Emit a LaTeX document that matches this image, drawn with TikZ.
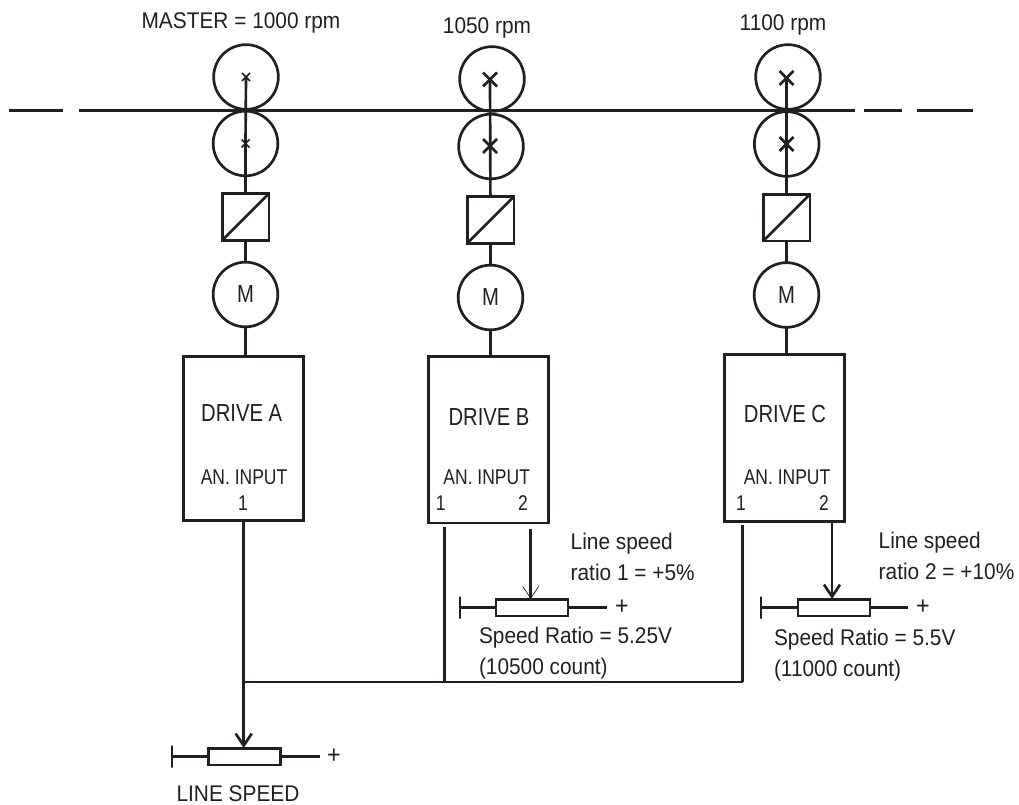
\documentclass[tikz,border=0pt]{standalone}
\usepackage{fontspec}
\setmainfont[FakeStretch=0.92]{Liberation Sans}
\newfontfamily\capsfont[FakeStretch=0.82]{Liberation Sans}
\usepackage{tikz}
\usetikzlibrary{arrows.meta, positioning}
\definecolor{inkblack}{HTML}{231F20}
\tikzset{
  wire/.style={
    draw=inkblack,
    line width=2pt
  },
  roller/.style={
    wire,
    circle,
    inner sep=0pt,
    outer sep=0pt,
    minimum size=48.5pt
  },
  motor/.style={
    roller,
    font=\capsfont\fontsize{18.5}{20}\selectfont,
    text=inkblack
  },
  converter/.style={
    wire,
    rectangle,
    inner sep=0pt,
    outer sep=0pt,
    minimum size=35pt
  },
  drivebox/.style={
    wire,
    rectangle,
    inner sep=0pt,
    outer sep=0pt,
    minimum width=90pt,
    minimum height=123pt
  },
  tallbox/.style={
    drivebox,
    minimum height=125pt
  },
  potbox/.style={
    wire,
    rectangle,
    inner sep=0pt,
    outer sep=0pt,
    minimum width=54pt,
    minimum height=12.5pt
  },
  potstop/.style={
    wire,
    rectangle,
    inner sep=0pt,
    outer sep=0pt,
    minimum width=0pt,
    minimum height=16.5pt
  },
  wiper/.style={
    wire,
    -{Straight Barb[length=9pt,width=12pt]}
  },
  thinwiper/.style={
    wire,
    -{Straight Barb[length=9pt,width=12pt,line width=0.5pt]}
  },
  label/.style={
    inner sep=0pt,
    outer sep=0pt,
    text=inkblack,
    anchor=base,
    font=\fontsize{17}{20}\selectfont
  },
  drivelabel/.style={
    label,
    font=\capsfont\fontsize{18.5}{20}\selectfont
  },
  inputlabel/.style={
    label,
    font=\capsfont\fontsize{16}{20}\selectfont
  },
  pluslabel/.style={
    label,
    font=\fontsize{19}{20}\selectfont
  },
  note/.style={
    label,
    anchor=north west,
    align=left,
    font=\fontsize{17}{23}\selectfont
  },
  cross/.style={
    wire,
    line width=1.2pt
  }
}

\begin{document}
\begin{tikzpicture}[x=0.75pt,y=-0.75pt]
\useasboundingbox (0,0) rectangle (1019,805);

% --- Speed labels ---
\node[label] (rpmA) at (241,28.3) {MASTER = 1000 rpm};
\node[label] (rpmB) at (487,33.3) {1050 rpm};
\node[label] (rpmC) at (783,31) {1100 rpm};

% --- Web line ---
\coordinate (webA) at (9,110.7);
\coordinate (webB) at (63,110.7);
\coordinate (webC) at (79,110.7);
\coordinate (webD) at (855,110.7);
\coordinate (webE) at (864,110.7);
\coordinate (webF) at (902,110.7);
\coordinate (webG) at (917,110.7);
\coordinate (webH) at (973,110.7);
\draw[wire] (webA) -- (webB);
\draw[wire] (webC) -- (webD);
\draw[wire] (webE) -- (webF);
\draw[wire] (webG) -- (webH);

% --- Drive A column ---
\node[roller] (rollAu) at (246,77) {};
\node[roller] (rollAl) at (245.5,143.5) {};
\node[converter] (convA) at (245.5,217) {};
\node[motor] (motA) at (245.5,294.5) {M};
\node[drivebox] (driveA) at (243.5,438.5) {};
\draw[wire] (rollAu.center) -- (rollAl.center);
\draw[wire] (rollAl.center) -- (convA);
\draw[wire] (convA.south west) -- (convA.north east);
\draw[wire] (convA) -- (motA);
\draw[wire] (motA) -- (motA |- driveA.north);
\draw[cross] ([shift={(-4,-4)}]rollAu.center) -- ([shift={(4,4)}]rollAu.center);
\draw[cross] ([shift={(-4,4)}]rollAu.center) -- ([shift={(4,-4)}]rollAu.center);
\draw[cross] ([shift={(-4,-4)}]rollAl.center) -- ([shift={(4,4)}]rollAl.center);
\draw[cross] ([shift={(-4,4)}]rollAl.center) -- ([shift={(4,-4)}]rollAl.center);

% --- Drive B column ---
\node[roller] (rollBu) at (492,79) {};
\node[roller] (rollBl) at (491,146.5) {};
\node[converter] (convB) at (490.5,220) {};
\node[motor] (motB) at (490.5,297.5) {M};
\node[tallbox] (driveB) at (488.5,439.5) {};
\coordinate (shaftB) at (490,79.5);
\coordinate (hubB) at (490,146);
\draw[wire] (shaftB) -- (convB);
\draw[wire] (convB.south west) -- (convB.north east);
\draw[wire] (convB) -- (motB);
\draw[wire] (motB) -- (motB |- driveB.north);
\draw[wire] ([shift={(-7,-7)}]shaftB) -- ([shift={(7,7)}]shaftB);
\draw[wire] ([shift={(-7,7)}]shaftB) -- ([shift={(7,-7)}]shaftB);
\draw[wire] ([shift={(-7,-7)}]hubB) -- ([shift={(7,7)}]hubB);
\draw[wire] ([shift={(-7,7)}]hubB) -- ([shift={(7,-7)}]hubB);

% --- Drive C column ---
\node[roller] (rollCu) at (788,77) {};
\node[roller] (rollCl) at (786.7,144) {};
\node[converter] (convC) at (786.5,217.7) {};
\node[motor] (motC) at (786.5,295) {M};
\node[tallbox] (driveC) at (784.3,438) {};
\coordinate (shaftC) at (786.5,78);
\coordinate (hubC) at (786.5,144);
\draw[wire] (shaftC) -- (convC);
\draw[wire] (convC.south west) -- (convC.north east);
\draw[wire] (convC) -- (motC);
\draw[wire] (motC) -- (motC |- driveC.north);
\draw[wire] ([shift={(-7,-7)}]shaftC) -- ([shift={(7,7)}]shaftC);
\draw[wire] ([shift={(-7,7)}]shaftC) -- ([shift={(7,-7)}]shaftC);
\draw[wire] ([shift={(-7,-7)}]hubC) -- ([shift={(7,7)}]hubC);
\draw[wire] ([shift={(-7,7)}]hubC) -- ([shift={(7,-7)}]hubC);

% --- Drive texts ---
\node[drivelabel] (nameA) at (241.7,421.7) {DRIVE A};
\node[drivelabel] (nameB) at (489,425) {DRIVE B};
\node[drivelabel] (nameC) at (785,422.7) {DRIVE C};
\node[inputlabel] (anA) at (244,484) {AN. INPUT};
\node[inputlabel] (anB) at (486.7,484) {AN. INPUT};
\node[inputlabel] (anC) at (787,484) {AN. INPUT};
\node[inputlabel] (oneA) at (243,510) {1};
\node[inputlabel] (oneB) at (440.7,510) {1};
\node[inputlabel] (twoB) at (523,510) {2};
\node[inputlabel] (oneC) at (741,510) {1};
\node[inputlabel] (twoC) at (824,510) {2};

% --- Potentiometers ---
\node[potbox] (potA) at (244.5,756.5) {};
\node[potstop] (stopA) at (172,756.5) {};
\coordinate (endA) at (320,756.5);
\node[pluslabel] (plusA) at (334,763) {+};
\draw[wire] (stopA) -- (potA);
\draw[wire] (potA) -- (endA);

\node[potbox] (potB) at (532,607.5) {};
\node[potstop] (stopB) at (460,607.5) {};
\coordinate (endB) at (607,607.5);
\node[pluslabel] (plusB) at (622,614) {+};
\draw[wire] (stopB) -- (potB);
\draw[wire] (potB) -- (endB);

\node[potbox] (potC) at (834,607.5) {};
\node[potstop] (stopC) at (761,607.5) {};
\coordinate (endC) at (908,607.5);
\node[pluslabel] (plusC) at (923,614) {+};
\draw[wire] (stopC) -- (potC);
\draw[wire] (potC) -- (endC);

% --- Speed reference wiring ---
\coordinate (outA) at (243.7,521.7);
\coordinate (wipA) at (243.7,748);
\coordinate (busA) at (243.7,682);
\coordinate (inB) at (444.7,527);
\coordinate (busB) at (444.7,682);
\coordinate (inC) at (742.7,525);
\coordinate (busC) at (742.7,682);
\coordinate (outB) at (530.7,529);
\coordinate (wipB) at (530.7,599);
\coordinate (outC) at (832,523);
\coordinate (wipC) at (832,599);
\draw[wiper] (outA) -- (wipA);
\draw[wire] (busA) -- (busC);
\draw[wire] (inB) -- (busB);
\draw[wire] (inC) -- (busC);
\draw[thinwiper] (outB) -- (wipB);
\draw[wiper] (outC) -- (wipC);

% --- Notes ---
\node[label] (lineA) at (238,801.7) {LINE SPEED};
\node[note] (ratioB) at (570.7,533) {Line speed\\ratio 1 = +5\%};
\node[note] (ratioC) at (878.7,532) {Line speed\\ratio 2 = +10\%};
\node[note] (setB) at (479,627) {Speed Ratio = 5.25V\\(10500 count)};
\node[note] (setC) at (774,629) {Speed Ratio = 5.5V\\(11000 count)};

\end{tikzpicture}
\end{document}
